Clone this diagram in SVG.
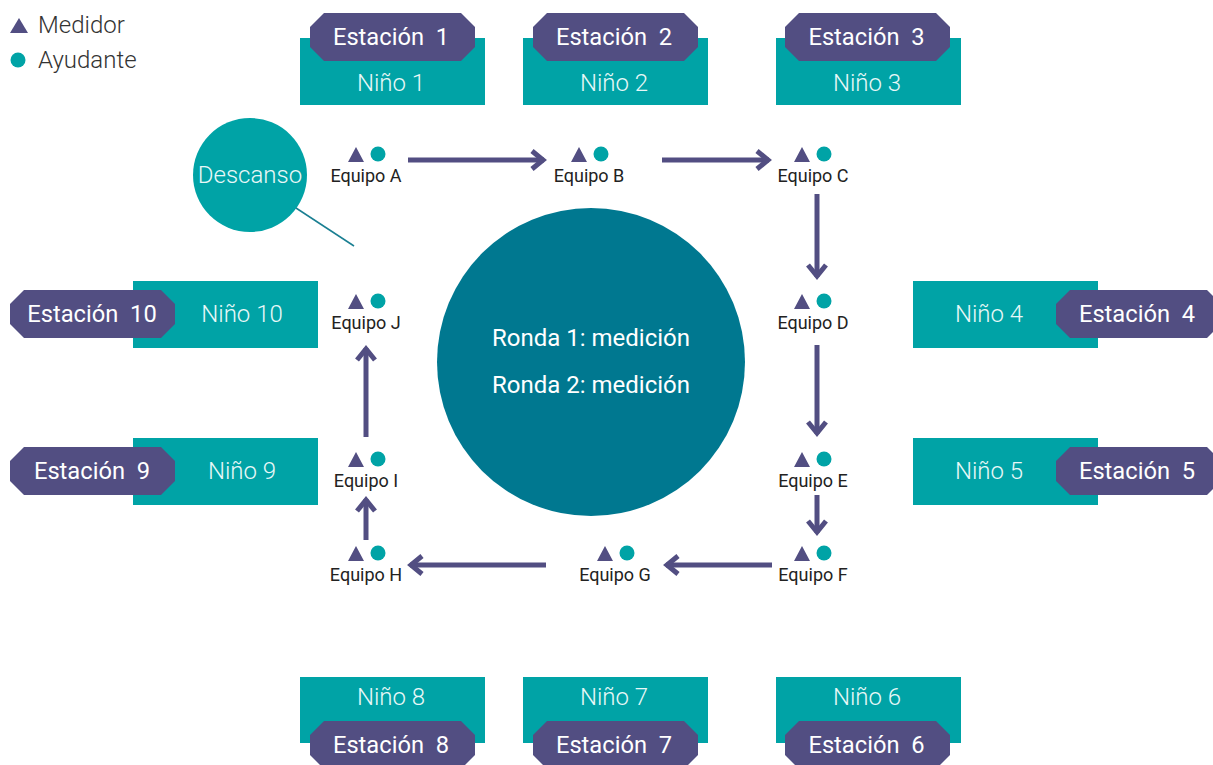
<svg xmlns="http://www.w3.org/2000/svg" width="1213" height="765" viewBox="0 0 1213 765">
<defs>
<style>
.st{fill:#524e82}
.nr{fill:#00a3a6}
.ts{font-family:Roboto,"Liberation Sans",sans-serif;font-size:23.7px;fill:#ffffff;text-anchor:middle}
.tn{font-family:Roboto,"Liberation Sans",sans-serif;font-weight:300;font-size:24px;fill:#e8f8f8;text-anchor:middle}
.te{font-family:Roboto,"Liberation Sans",sans-serif;font-size:18px;fill:#222222;text-anchor:middle}
.tl{font-family:Roboto,"Liberation Sans",sans-serif;font-weight:300;font-size:24px;fill:#333333}
.tr{font-family:Roboto,"Liberation Sans",sans-serif;font-size:24px;fill:#ffffff;text-anchor:middle}
.tri{fill:#524e82}
.dot{fill:#00a3a6}
.arr{fill:none;stroke:#524e82;stroke-width:5;marker-end:url(#ah)}
</style>
<marker id="ah" markerUnits="userSpaceOnUse" viewBox="-20 -14 28 28" markerWidth="28" markerHeight="28" refX="0" refY="0" orient="auto">
<path d="M-12,-9 L-1,0 L-12,9" fill="none" stroke="#524e82" stroke-width="5"/>
</marker>
</defs>
<rect width="1213" height="765" fill="#ffffff"/>

<g id="legend">
<polygon class="tri" points="10,33 28,33 19,18"/>
<text class="tl" x="38" y="33">Medidor</text>
<circle class="dot" cx="18" cy="60" r="7.5"/>
<text class="tl" x="38" y="68">Ayudante</text>
</g>

<g id="estacion1">
<rect class="nr" x="300" y="38" width="185" height="67"/>
<polygon class="st" points="324,13 461,13 475,27 475,47 461,61 324,61 310,47 310,27"/>
<text class="ts" x="391" y="45" xml:space="preserve">Estación  1</text>
<text class="tn" x="391" y="91">Niño 1</text>
</g>
<g id="estacion2">
<rect class="nr" x="523" y="38" width="185" height="67"/>
<polygon class="st" points="547,13 684,13 698,27 698,47 684,61 547,61 533,47 533,27"/>
<text class="ts" x="614" y="45" xml:space="preserve">Estación  2</text>
<text class="tn" x="614" y="91">Niño 2</text>
</g>
<g id="estacion3">
<rect class="nr" x="776" y="38" width="185" height="67"/>
<polygon class="st" points="799,13 936,13 950,27 950,47 936,61 799,61 785,47 785,27"/>
<text class="ts" x="866.5" y="45" xml:space="preserve">Estación  3</text>
<text class="tn" x="867" y="91">Niño 3</text>
</g>
<g id="estacion4">
<rect class="nr" x="913" y="281" width="185" height="67"/>
<polygon class="st" points="1070,290 1207,290 1221,304 1221,324 1207,338 1070,338 1056,324 1056,304"/>
<text class="ts" x="1137" y="322" xml:space="preserve">Estación  4</text>
<text class="tn" x="989" y="322">Niño 4</text>
</g>
<g id="estacion5">
<rect class="nr" x="913" y="438" width="185" height="67"/>
<polygon class="st" points="1070,447 1207,447 1221,461 1221,481 1207,495 1070,495 1056,481 1056,461"/>
<text class="ts" x="1137" y="479" xml:space="preserve">Estación  5</text>
<text class="tn" x="989" y="479">Niño 5</text>
</g>
<g id="estacion6">
<rect class="nr" x="776" y="677" width="185" height="66"/>
<polygon class="st" points="799,721 936,721 950,735 950,755 936,769 799,769 785,755 785,735"/>
<text class="ts" x="866.5" y="753" xml:space="preserve">Estación  6</text>
<text class="tn" x="867" y="705">Niño 6</text>
</g>
<g id="estacion7">
<rect class="nr" x="523" y="677" width="185" height="66"/>
<polygon class="st" points="547,721 684,721 698,735 698,755 684,769 547,769 533,755 533,735"/>
<text class="ts" x="614" y="753" xml:space="preserve">Estación  7</text>
<text class="tn" x="614" y="705">Niño 7</text>
</g>
<g id="estacion8">
<rect class="nr" x="300" y="677" width="185" height="66"/>
<polygon class="st" points="324,721 461,721 475,735 475,755 461,769 324,769 310,755 310,735"/>
<text class="ts" x="391" y="753" xml:space="preserve">Estación  8</text>
<text class="tn" x="391" y="705">Niño 8</text>
</g>
<g id="estacion9">
<rect class="nr" x="133" y="438" width="185" height="67"/>
<polygon class="st" points="24,447 161,447 175,461 175,481 161,495 24,495 10,481 10,461"/>
<text class="ts" x="92" y="479" xml:space="preserve">Estación  9</text>
<text class="tn" x="242" y="479">Niño 9</text>
</g>
<g id="estacion10">
<rect class="nr" x="133" y="281" width="185" height="67"/>
<polygon class="st" points="24,290 161,290 175,304 175,324 161,338 24,338 10,324 10,304"/>
<text class="ts" x="92" y="322" xml:space="preserve">Estación  10</text>
<text class="tn" x="242" y="322">Niño 10</text>
</g>

<g id="descanso">
<circle cx="250" cy="175" r="57" fill="#00a3a6"/>
<text class="tn" x="250" y="183">Descanso</text>
</g>

<g id="ronda">
<circle cx="591" cy="362" r="154" fill="#007890"/>
<text class="tr" x="591" y="346">Ronda 1: medición</text>
<text class="tr" x="591" y="393">Ronda 2: medición</text>
</g>

<g id="equipoA">
<polygon class="tri" points="348,162 364,162 356,147"/><circle class="dot" cx="378" cy="154" r="7.5"/>
<text class="te" x="366" y="182">Equipo A</text>
</g>
<g id="equipoB">
<polygon class="tri" points="571,162 587,162 579,147"/><circle class="dot" cx="601" cy="154" r="7.5"/>
<text class="te" x="589" y="182">Equipo B</text>
</g>
<g id="equipoC">
<polygon class="tri" points="794,162 810,162 802,147"/><circle class="dot" cx="824" cy="154" r="7.5"/>
<text class="te" x="813" y="182">Equipo C</text>
</g>
<g id="equipoD">
<polygon class="tri" points="794,309 810,309 802,294"/><circle class="dot" cx="824" cy="301" r="7.5"/>
<text class="te" x="813" y="329">Equipo D</text>
</g>
<g id="equipoE">
<polygon class="tri" points="794,467 810,467 802,452"/><circle class="dot" cx="824" cy="459" r="7.5"/>
<text class="te" x="813" y="487">Equipo E</text>
</g>
<g id="equipoF">
<polygon class="tri" points="794,561 810,561 802,546"/><circle class="dot" cx="824" cy="553" r="7.5"/>
<text class="te" x="813" y="581">Equipo F</text>
</g>
<g id="equipoG">
<polygon class="tri" points="597,561 613,561 605,546"/><circle class="dot" cx="627" cy="553" r="7.5"/>
<text class="te" x="615" y="581">Equipo G</text>
</g>
<g id="equipoH">
<polygon class="tri" points="348,561 364,561 356,546"/><circle class="dot" cx="378" cy="553" r="7.5"/>
<text class="te" x="366" y="581">Equipo H</text>
</g>
<g id="equipoI">
<polygon class="tri" points="348,467 364,467 356,452"/><circle class="dot" cx="378" cy="459" r="7.5"/>
<text class="te" x="366" y="487">Equipo I</text>
</g>
<g id="equipoJ">
<polygon class="tri" points="348,309 364,309 356,294"/><circle class="dot" cx="378" cy="301" r="7.5"/>
<text class="te" x="366" y="329">Equipo J</text>
</g>

<g id="connectors">
<line x1="296" y1="208" x2="354" y2="246" stroke="#1a7f92" stroke-width="1.5"/>
<path class="arr" d="M408,160 H544"/>
<path class="arr" d="M662,160 H769"/>
<path class="arr" d="M817,194 V277"/>
<path class="arr" d="M817,345 V434"/>
<path class="arr" d="M817,495 V533"/>
<path class="arr" d="M772,565 H666"/>
<path class="arr" d="M546,565 H410"/>
<path class="arr" d="M366,540 V499"/>
<path class="arr" d="M366,437 V348"/>
</g>
</svg>
